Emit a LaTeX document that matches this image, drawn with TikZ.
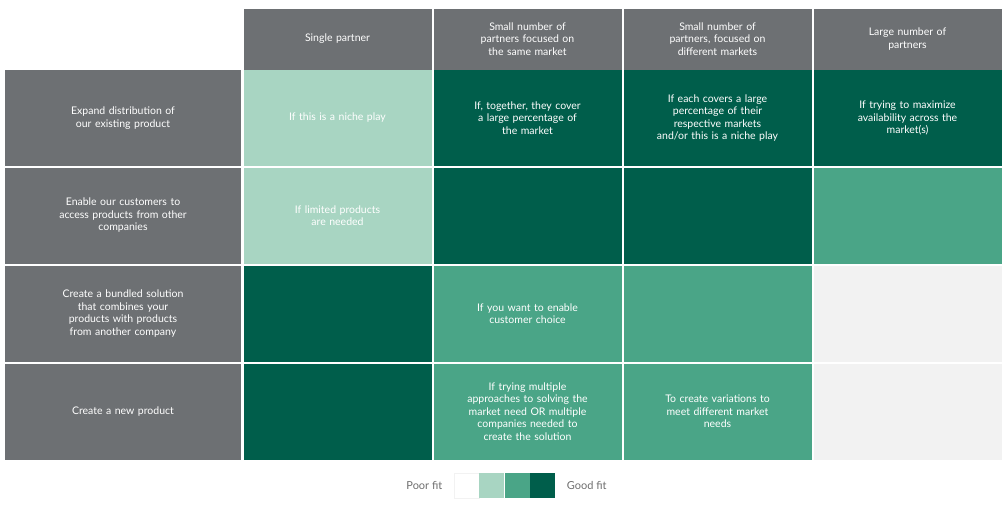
\documentclass[tikz,border=0pt]{standalone}
\usepackage{fontspec}
\setmainfont{Lato}
\usetikzlibrary{positioning}
\definecolor{hdgray}{HTML}{6D7073}
\definecolor{fitdark}{HTML}{005E4B}
\definecolor{fitmid}{HTML}{4AA587}
\definecolor{fitlight}{HTML}{A8D5C2}
\definecolor{fitnone}{HTML}{F2F2F2}
\definecolor{legtext}{HTML}{6D6D6D}
\tikzstyle{cell} = [rectangle, minimum width=188pt, minimum height=96pt, text width=165pt, align=center, text=white, inner sep=0pt, font=\fontsize{10.5}{12.5}\selectfont]
\tikzstyle{header} = [cell, fill=hdgray, minimum height=61pt]
\tikzstyle{rowlabel} = [cell, fill=hdgray, minimum width=236pt, text width=200pt]
\tikzstyle{legbox} = [rectangle, minimum width=25pt, minimum height=25pt, inner sep=0pt]

\begin{document}
\begin{tikzpicture}[x=1pt, y=-1pt]
    \useasboundingbox (0,0) rectangle (1008,504);
    % header row
    \node (h1)[header] at (337.5,39) {Single partner};
    \node (h2)[header] at (527.5,39) {Small number of\\ partners focused on\\ the same market};
    \node (h3)[header] at (717.5,39) {Small number of\\ partners, focused on\\ different markets};
    \node (h4)[header] at (907.5,39) {Large number of\\ partners};

    % row labels
    \node (r1)[rowlabel] at (123,118) {Expand distribution of\\ our existing product};
    \node (r2)[rowlabel] at (123,215.5) {Enable our customers to\\ access products from other\\ companies};
    \node (r3)[rowlabel] at (123,313.5) {Create a bundled solution\\ that combines your\\ products with products\\ from another company};
    \node (r4)[rowlabel] at (123,411.5) {Create a new product};

    % row 1
    \node (c11)[cell, fill=fitlight] at (337.5,118) {If this is a niche play};
    \node (c12)[cell, fill=fitdark] at (527.5,118) {If, together, they cover\\ a large percentage of\\ the market};
    \node (c13)[cell, fill=fitdark] at (717.5,118) {If each covers a large\\ percentage of their\\ respective markets\\ and/or this is a niche play};
    \node (c14)[cell, fill=fitdark] at (907.5,118) {If trying to maximize\\ availability across the\\ market(s)};
    % row 2
    \node (c21)[cell, fill=fitlight] at (337.5,215.5) {If limited products\\ are needed};
    \node (c22)[cell, fill=fitdark] at (527.5,215.5) {};
    \node (c23)[cell, fill=fitdark] at (717.5,215.5) {};
    \node (c24)[cell, fill=fitmid] at (907.5,215.5) {};
    % row 3
    \node (c31)[cell, fill=fitdark] at (337.5,313.5) {};
    \node (c32)[cell, fill=fitmid] at (527.5,313.5) {If you want to enable\\ customer choice};
    \node (c33)[cell, fill=fitmid] at (717.5,313.5) {};
    \node (c34)[cell, fill=fitnone] at (907.5,313.5) {};
    % row 4
    \node (c41)[cell, fill=fitdark] at (337.5,411.5) {};
    \node (c42)[cell, fill=fitmid] at (527.5,411.5) {If trying multiple\\ approaches to solving the\\ market need OR multiple\\ companies needed to\\ create the solution};
    \node (c43)[cell, fill=fitmid] at (717.5,411.5) {To create variations to\\ meet different market\\ needs};
    \node (c44)[cell, fill=fitnone] at (907.5,411.5) {};

    % legend
    \node (l1)[legbox, fill=white, draw=fitnone] at (466.5,485.5) {};
    \node (l2)[legbox, fill=fitlight, right=0pt of l1] {};
    \node (l3)[legbox, fill=fitmid, right=0pt of l2] {};
    \node (l4)[legbox, fill=fitdark, right=0pt of l3] {};
    \node (poor)[left=8pt of l1, text=legtext, font=\fontsize{11}{13}\selectfont] {Poor fit};
    \node (good)[right=8pt of l4, text=legtext, font=\fontsize{11}{13}\selectfont] {Good fit};
\end{tikzpicture}
\end{document}
